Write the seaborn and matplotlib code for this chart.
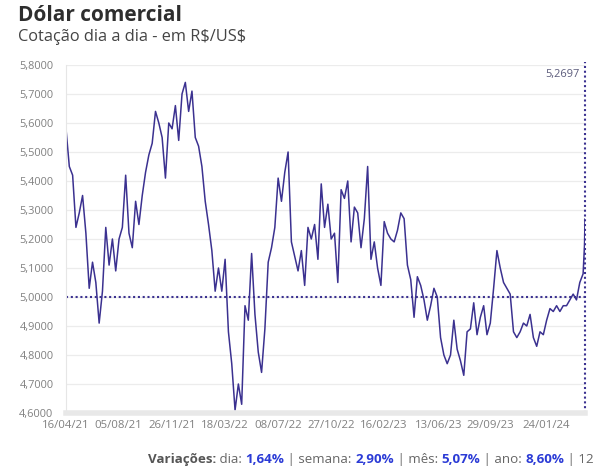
import matplotlib
matplotlib.use("Agg")
import matplotlib.pyplot as plt
import pandas as pd
import seaborn as sns

# cotação semanal (R$/US$), de 16/04/21 em diante, + últimos dias
inicio = "2021-04-16"
cotacao_semanal = [
    5.58, 5.45, 5.42, 5.24, 5.29, 5.35, 5.22, 5.03, 5.12, 5.05,
    4.91, 5.02, 5.24, 5.11, 5.20, 5.09, 5.20, 5.24, 5.42, 5.22,
    5.17, 5.33, 5.25, 5.35, 5.43, 5.49, 5.53, 5.64, 5.60, 5.55,
    5.41, 5.60, 5.58, 5.66, 5.54, 5.70, 5.74, 5.64, 5.71, 5.55,
    5.52, 5.45, 5.33, 5.25, 5.16, 5.02, 5.10, 5.02, 5.13, 4.88,
    4.77, 4.61, 4.70, 4.63, 4.97, 4.92, 5.15, 4.94, 4.81, 4.74,
    4.89, 5.12, 5.17, 5.24, 5.41, 5.33, 5.43, 5.50, 5.19, 5.14,
    5.09, 5.16, 5.04, 5.24, 5.20, 5.25, 5.13, 5.39, 5.24, 5.32,
    5.20, 5.22, 5.05, 5.37, 5.34, 5.40, 5.19, 5.31, 5.29, 5.17,
    5.27, 5.45, 5.13, 5.19, 5.10, 5.04, 5.26, 5.22, 5.20, 5.19,
    5.23, 5.29, 5.27, 5.11, 5.06, 4.93, 5.07, 5.04, 4.99, 4.92,
    4.97, 5.03, 5.00, 4.86, 4.80, 4.77, 4.80, 4.92, 4.82, 4.78,
    4.73, 4.88, 4.89, 4.98, 4.87, 4.93, 4.97, 4.87, 4.91, 5.03,
    5.16, 5.10, 5.05, 5.03, 5.01, 4.88, 4.86, 4.88, 4.91, 4.90,
    4.94, 4.86, 4.83, 4.88, 4.87, 4.92, 4.96, 4.95, 4.97, 4.95,
    4.97, 4.97, 4.99, 5.01, 4.99, 5.05, 5.08,
]
ultimos_dias = ["2024-04-15", "2024-04-16"]
ultimas_cotacoes = [5.18, 5.2697]

rotulos_x = ["16/04/21", "05/08/21", "26/11/21", "18/03/22", "08/07/22",
             "27/10/22", "16/02/23", "13/06/23", "29/09/23", "24/01/24"]
ticks_y = [4.6, 4.7, 4.8, 4.9, 5.0, 5.1, 5.2, 5.3, 5.4, 5.5, 5.6, 5.7, 5.8]

datas = list(pd.date_range(inicio, periods=len(cotacao_semanal), freq="7D")) + \
    list(pd.to_datetime(ultimos_dias))
df = pd.DataFrame({"data": datas, "cotacao": cotacao_semanal + ultimas_cotacoes})

roxo = "#3b3190"
cinza = "#808080"

sns.set_theme(style="white")
plt.rcParams["font.family"] = ["Open Sans", "DejaVu Sans"]

fig, ax = plt.subplots(figsize=(6.05, 4.7), dpi=100)
fig.subplots_adjust(left=66 / 605, right=585 / 605, bottom=57 / 470, top=405 / 470)

sns.lineplot(data=df, x="data", y="cotacao", ax=ax, color=roxo, lw=1.1)

ax.axhline(5.0, color=roxo, ls=(0, (1, 1.3)), lw=1.5, zorder=1)
ax.axvline(df["data"].iloc[-1], color=roxo, ls=(0, (1, 1.3)), lw=1.5,
           ymax=1.01, clip_on=False)
ax.annotate("5,2697", xy=(df["data"].iloc[-1], 5.766), xytext=(-4, 0),
            textcoords="offset points", ha="right", va="center",
            fontsize=7.9, color="#5a5a7a")

ax.set_xlim(pd.Timestamp(inicio), df["data"].iloc[-1])
ax.set_ylim(4.6, 5.8)
ax.set_yticks(ticks_y)
ax.set_yticklabels([f"{v:.4f}".replace(".", ",") for v in ticks_y])
ax.set_xticks(pd.to_datetime(rotulos_x, format="%d/%m/%y"))
ax.set_xticklabels(rotulos_x)
ax.tick_params(axis="y", length=0, pad=9, labelsize=7.9, labelcolor=cinza)
ax.tick_params(axis="x", length=0, pad=5, labelsize=8.2, labelcolor=cinza)
ax.set_xlabel("")
ax.set_ylabel("")

ax.grid(axis="y", color="#ececec", lw=0.9)
for lado in ["top", "right"]:
    ax.spines[lado].set_visible(False)
ax.spines["left"].set_color("#e6e6e6")
ax.spines["left"].set_linewidth(0.8)
ax.spines["bottom"].set_color("#e8e8e8")
ax.spines["bottom"].set_linewidth(4)

fig.text(18 / 605, 1 - 21 / 470, "Dólar comercial", fontsize=15,
         fontweight="bold", color="#2e2e2e", va="baseline")
fig.text(18 / 605, 1 - 41 / 470, r"Cotação dia a dia - em R\$/US\$", fontsize=11.8,
         color="#444444", va="baseline")

# rodapé com as variações
azul = "#2b3bd6"
partes = [("Variações:", "bold", "#555555"), (" dia: ", "normal", "#666666"),
          ("1,64%", "bold", azul), (" | semana: ", "normal", "#666666"),
          ("2,90%", "bold", azul), (" | mês: ", "normal", "#666666"),
          ("5,07%", "bold", azul), (" | ano: ", "normal", "#666666"),
          ("8,60%", "bold", azul), (" | 12", "normal", "#666666")]
t = fig.text(148 / 605, 1 - 466 / 470, partes[0][0], fontsize=9.6,
             fontweight=partes[0][1], color=partes[0][2], va="bottom")
for texto, peso, cor in partes[1:]:
    t = ax.annotate(texto, xy=(1, 0), xycoords=t, va="bottom", ha="left",
                    fontsize=9.6, fontweight=peso, color=cor,
                    annotation_clip=False)

fig.savefig("out.png", dpi=100)
